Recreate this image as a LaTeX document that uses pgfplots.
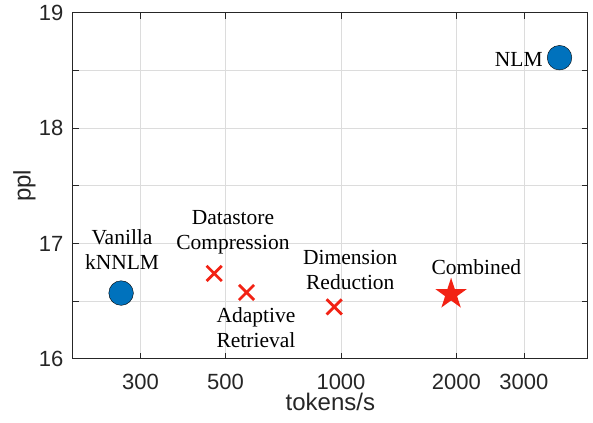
\documentclass[border=0pt]{standalone}
\usepackage{pgfplots}
\pgfplotsset{compat=1.18}
\usepackage{fontspec}
\setmainfont{Liberation Serif}
\newfontfamily\helv{Liberation Sans}
\definecolor{mblue}{RGB}{0,114,189}
\definecolor{mred}{RGB}{242,34,20}
\definecolor{mgrid}{RGB}{220,220,220}
\definecolor{maxis}{RGB}{38,38,38}
\pgfdeclareplotmark{pentagram}{%
  \pgfpathmoveto{\pgfpointpolar{90}{\pgfplotmarksize}}%
  \pgfpathlineto{\pgfpointpolar{126}{0.382\pgfplotmarksize}}%
  \pgfpathlineto{\pgfpointpolar{162}{\pgfplotmarksize}}%
  \pgfpathlineto{\pgfpointpolar{198}{0.382\pgfplotmarksize}}%
  \pgfpathlineto{\pgfpointpolar{234}{\pgfplotmarksize}}%
  \pgfpathlineto{\pgfpointpolar{270}{0.382\pgfplotmarksize}}%
  \pgfpathlineto{\pgfpointpolar{306}{\pgfplotmarksize}}%
  \pgfpathlineto{\pgfpointpolar{342}{0.382\pgfplotmarksize}}%
  \pgfpathlineto{\pgfpointpolar{18}{\pgfplotmarksize}}%
  \pgfpathlineto{\pgfpointpolar{54}{0.382\pgfplotmarksize}}%
  \pgfpathclose
  \pgfusepathqfill
}
\pgfdeclareplotmark{bigx}{%
  \pgfsetlinewidth{2.8pt}%
  \pgfsetbuttcap
  \pgfpathmoveto{\pgfqpoint{-\pgfplotmarksize}{-\pgfplotmarksize}}%
  \pgfpathlineto{\pgfqpoint{\pgfplotmarksize}{\pgfplotmarksize}}%
  \pgfpathmoveto{\pgfqpoint{-\pgfplotmarksize}{\pgfplotmarksize}}%
  \pgfpathlineto{\pgfqpoint{\pgfplotmarksize}{-\pgfplotmarksize}}%
  \pgfusepathqstroke
}
\begin{document}
\begin{tikzpicture}
\begin{axis}[name=ax, scale only axis, width=515pt, height=346.3pt,
  xmode=log, xmin=200, xmax=4400, ymin=16, ymax=19,
  xtick={300,500,1000,2000,3000}, xticklabels={300,500,1000,2000,3000},
  minor xtick={},
  ytick={16,16.5,17,17.5,18,18.5,19}, yticklabels={16,,17,,18,,19},
  grid=major, major grid style={mgrid, line width=0.8pt},
  tick align=inside, major tick length=6pt,
  tick style={maxis, line width=0.8pt},
  axis line style={maxis, line width=1pt},
  ticklabel style={font=\helv\fontsize{22}{22}\selectfont, text=maxis},
  xticklabel style={anchor=base, inner sep=0pt, yshift=-30.5pt},
  yticklabel style={anchor=east, inner sep=0pt, xshift=-9.5pt},
  xlabel={tokens/s}, ylabel={ppl},
  xlabel style={at={(axis description cs:0.5,-0.149)}, anchor=base, inner sep=0pt, font=\helv\fontsize{24}{24}\selectfont, text=maxis},
  ylabel style={at={(axis description cs:-0.0724,0.5)}, anchor=south, inner sep=0pt, font=\helv\fontsize{24}{24}\selectfont, text=maxis},
  clip=false,
]
\addplot[only marks, mark=*, mark size=12.3pt, mark options={fill=mblue, draw=none}] coordinates {(267,16.57) (3715,18.61)};
\addplot[only marks, mark=bigx, mark size=7.6pt, mark options={draw=mred}] coordinates {(467,16.74) (567,16.575) (960,16.45)};
\addplot[only marks, mark=pentagram, mark size=16.5pt, mark options={fill=mred, draw=none}] coordinates {(1937,16.56)};
\begin{scope}[every node/.style={font=\fontsize{21.5}{25}\selectfont, align=center, inner sep=0pt}]
\node at (axis cs:268.5,16.945) {Vanilla\\kNNLM};
\node at (axis cs:522.7,17.097) {Datastore\\Compression};
\node at (axis cs:600,16.269) {Adaptive\\Retrieval};
\node at (axis cs:1057.5,16.774) {Dimension\\Reduction};
\node[anchor=base] at (axis cs:2255,16.728) {Combined};
\node[anchor=base east] at (axis cs:3360,18.533) {NLM};
\end{scope}
\end{axis}
\pgfresetboundingbox
\path ([shift={(-73pt,-64pt)}]ax.south west) rectangle ([shift={(5.3pt,12.7pt)}]ax.north east);
\end{tikzpicture}
\end{document}
